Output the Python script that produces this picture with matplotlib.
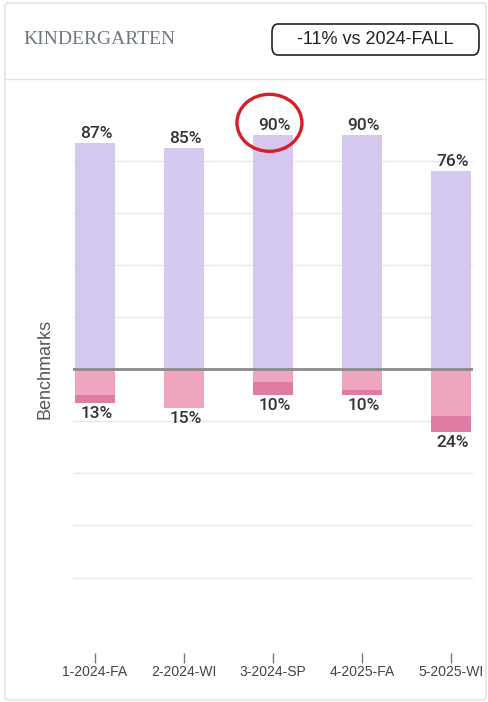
import matplotlib.pyplot as plt
from matplotlib.patches import Ellipse, FancyBboxPatch
from matplotlib.lines import Line2D

# ── Data ──────────────────────────────────────────────────────────────────────
terms       = ["1-2024-FA", "2-2024-WI", "3-2024-SP", "4-2025-FA", "5-2025-WI"]
at_bench    = [87, 85, 90, 90, 76]      # % at/above benchmark
below_light = [10, 15, 5, 8, 18]        # % below benchmark
below_dark  = [3, 0, 5, 2, 6]           # % well below benchmark
title       = "KINDERGARTEN"
badge       = "-11% vs 2024-FALL"
highlight   = 2                         # circled bar

PURPLE = "#d5c8ef"
PINK_L = "#eea5bf"
PINK_D = "#e07ba3"
TXT    = "#333333"

plt.rcParams.update({
    "font.family": ["Liberation Sans", "DejaVu Sans"],
})

W, H = 489, 702
fig = plt.figure(figsize=(W / 100, H / 100), dpi=100)

# ── Card frame + header ──────────────────────────────────────────────────────
def px(x, y):
    return x / W, 1 - y / H

card = FancyBboxPatch((5 / W, 2 / H), 481 / W, 697 / H,
                      boxstyle="round,pad=0,rounding_size=0.006",
                      transform=fig.transFigure, fc="none", ec="#dedede",
                      lw=1.0, zorder=-5)
fig.patches.append(card)
fig.add_artist(Line2D([5 / W, 486 / W], [1 - 79 / H] * 2,
                      transform=fig.transFigure, color="#e2e2e2", lw=1.0))

fig.text(*px(23, 39), title, family="Liberation Serif", fontsize=14,
         color="#6e7687", va="center", ha="left")
box = FancyBboxPatch((272 / W, 1 - 55 / H), 207 / W, 31 / H,
                     boxstyle="round,pad=0,rounding_size=0.012",
                     transform=fig.transFigure, fc="white", ec="#222222", lw=1.2)
fig.patches.append(box)
fig.text(*px(375.5, 40), badge, fontsize=13, color="#222222",
         ha="center", va="center")

# ── Chart ────────────────────────────────────────────────────────────────────
ax = fig.add_axes([73 / W, 49 / H, 400 / W, 557 / H])
ax.patch.set_alpha(0)
x = list(range(len(terms)))
bw = 0.45

ax.bar(x, at_bench, width=bw, color=PURPLE, zorder=2)
neg_l = [-v for v in below_light]
neg_d = [-v for v in below_dark]
ax.bar(x, neg_l, width=bw, color=PINK_L, zorder=2)
ax.bar(x, neg_d, width=bw, bottom=neg_l, color=PINK_D, zorder=2)

ax.axhline(0, color="#8a8a8a", lw=2.0, zorder=3)
for g in [-80, -60, -40, -20, 20, 40, 60, 80]:
    ax.axhline(g, color="#e8e8e8", lw=1.0, zorder=1)

lab = dict(ha="center", family=["Roboto", "Liberation Sans"], fontsize=12.5,
           fontweight="medium", color=TXT, zorder=4)
for i in x:
    ax.text(i + 0.02, at_bench[i] + 0.8, f"{at_bench[i]}%", va="bottom", **lab)
    tot = below_light[i] + below_dark[i]
    ax.text(i + 0.02, -tot - 1.2, f"{tot}%", va="top", **lab)

# red circle around highlighted label
ax.add_patch(Ellipse((highlight - 0.04, at_bench[highlight] + 4.7),
                     0.73, 21.9, fill=False, ec="#d4202a", lw=2.4, zorder=5,
                     clip_on=False))

ax.set_xlim(-0.247, len(terms) - 1 + 0.247)
ax.set_ylim(-109, 105)
ax.set_xticks(x)
ax.set_xticklabels(terms, fontsize=10, color="#444444")
ax.set_yticks([])
ax.tick_params(axis="x", length=7, width=1, color="#777777", pad=1.5)
for s in ax.spines.values():
    s.set_visible(False)

fig.text(*px(45, 369), "Benchmarks", rotation=90, fontsize=13,
         color="#555555", ha="center", va="center")

fig.savefig("out.png", dpi=100)
